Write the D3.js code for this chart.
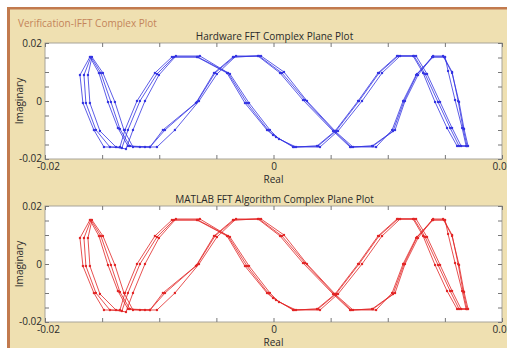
<!DOCTYPE html>
<html>
<head>
<meta charset="utf-8">
<script src="https://cdn.jsdelivr.net/npm/d3@7"></script>
<style>
  body { margin: 0; background: #fff; }
  text { font-family: "Open Sans", sans-serif; fill: #2a2a2a; }
</style>
</head>
<body>
<div id="chart"></div>
<script>
// three overlapping traces of the complex-plane plot (real, imaginary)
var re1 = [-0.01484,-0.01572,-0.01668,-0.01694,-0.01607,-0.01528,-0.01449,-0.01362,-0.01274,-0.01169,-0.01081,-0.0095,-0.00679,-0.00521,-0.00355,-0.00136,0.00057,0.00258,0.00521,0.0067,0.00871,0.01064,0.01151,0.01265,0.01388,0.01502,0.01528,0.01589,0.01651,0.01686,0.01607,0.01519,0.01414,0.01309,0.01222,0.01081,0.00915,0.0074,0.00539,0.00381,0.00171,-0.00004,-0.00057,-0.0025,-0.00407,-0.0067,-0.00889,-0.01038,-0.01195,-0.013,-0.01344];
var im1 = [-0.01586,-0.0100,-0.0007,0.00897,0.01517,0.00966,-0.00034,-0.00931,-0.01552,-0.01586,-0.01586,-0.0100,-0.0007,0.00966,0.01517,0.01552,0.00966,0.00034,-0.01034,-0.01586,-0.01552,-0.0100,0,0.00897,0.01517,0.01517,0.01034,0.00034,-0.00931,-0.01552,-0.01552,-0.00931,-0.00034,0.00966,0.01552,0.01552,0.00966,0,-0.01034,-0.01552,-0.01586,-0.01172,-0.0100,-0.0007,0.00966,0.01517,0.01517,0.00966,0,-0.0100,-0.01586];

var re2 = [-0.01379,-0.01519,-0.01607,-0.01624,-0.01589,-0.01493,-0.01388,-0.01309,-0.0123,-0.01125,-0.0102,-0.00863,-0.00652,-0.00495,-0.00328,-0.00109,0.00092,0.00293,0.00547,0.00696,0.00898,0.01038,0.01134,0.01248,0.01397,0.01484,0.01563,0.01624,0.01668,0.01703,0.01642,0.01563,0.01458,0.01344,0.01248,0.01108,0.0095,0.00775,0.00565,0.00407,0.00197,0.00048,-0.00031,-0.00214,-0.00381,-0.00644,-0.00854,-0.01003,-0.01125,-0.0123,-0.01291];
var im2 = [-0.01586,-0.01034,-0.0007,0.00897,0.01517,0.00966,-0.00034,-0.0100,-0.01586,-0.01586,-0.01586,-0.0100,0,0.00931,0.01552,0.01552,0.0100,0,-0.01069,-0.01586,-0.01586,-0.0100,0,0.00897,0.01552,0.01552,0.00966,-0.00034,-0.00966,-0.01552,-0.01552,-0.00931,-0.00034,0.00931,0.01552,0.01552,0.00966,0,-0.01034,-0.01586,-0.01586,-0.0131,-0.0100,-0.0007,0.00931,0.01552,0.01552,0.00897,0,-0.0100,-0.01655];

var re3 = [-0.01432,-0.01554,-0.01642,-0.01659,-0.01598,-0.01511,-0.01423,-0.01344,-0.01257,-0.01081,-0.00968,-0.0067,-0.00512,-0.00346,-0.00127,0.00074,0.00276,0.0053,0.00679,0.00863,0.01046,0.01143,0.01257,0.01397,0.01493,0.01563,0.01616,0.01659,0.01694,0.01624,0.01546,0.0144,0.01327,0.0123,0.0109,0.00924,0.00749,0.00547,0.0039,0.0018,0.00022,-0.00048,-0.00232,-0.00398,-0.00661,-0.00871,-0.0102,-0.01169,-0.01274,-0.01327];
var im3 = [-0.01586,-0.0100,-0.0007,0.00897,0.01517,0.00966,-0.00034,-0.00966,-0.01552,-0.01586,-0.0100,-0.00034,0.00966,0.01517,0.01552,0.00966,0.00034,-0.01034,-0.01586,-0.01552,-0.01034,0,0.00931,0.01517,0.01517,0.0100,0,-0.00931,-0.01552,-0.01552,-0.00931,-0.00034,0.00931,0.01552,0.01552,0.00966,0,-0.01034,-0.01552,-0.01586,-0.01241,-0.0100,-0.0007,0.00966,0.01517,0.01517,0.00931,0,-0.0100,-0.01621];

var traces = [[re1, im1], [re2, im2], [re3, im3]];

var minorTicks = [-0.02,-0.015,-0.01,-0.005,0,0.005,0.01,0.015,0.02];
var labelTicks = [-0.02, 0, 0.02];
var tickLabels = ["-0.02", "0", "0.02"];

var plots = [
  {title: "Hardware FFT Complex Plane Plot", color: "#3434e2", top: 43},
  {title: "MATLAB FFT Algorithm Complex Plane Plot", color: "#e22626", top: 206}
];

var W = 507, H = 348;
var plotLeft = 45, plotRight = 502, plotH = 116;

var svg = d3.select("#chart").append("svg")
    .attr("width", W)
    .attr("height", H);

// panel frame
svg.append("rect").attr("x", 7).attr("y", 7).attr("width", W - 7).attr("height", H - 7).attr("fill", "#c27a4e");
svg.append("rect").attr("x", 10).attr("y", 9.5).attr("width", W - 10).attr("height", H - 9.5).attr("fill", "#efe0b1");

svg.append("text")
    .attr("x", 18)
    .attr("y", 26.5)
    .style("font-size", "10px")
    .style("fill", "#c4845a")
    .text("Verification-IFFT Complex Plot");

var x = d3.scaleLinear().domain([-0.02, 0.02]).range([plotLeft, plotRight]);

plots.forEach(function(p) {
    var bottom = p.top + plotH;
    var y = d3.scaleLinear().domain([-0.02, 0.02]).range([bottom, p.top]);

    svg.append("rect")
        .attr("x", plotLeft).attr("y", p.top)
        .attr("width", plotRight - plotLeft).attr("height", plotH)
        .attr("fill", "#fff")
        .attr("stroke", "#a8a49a")
        .attr("stroke-width", 1);

    // inward ticks on all four sides
    var tickAxes = [
        [d3.axisTop(x), "translate(0," + bottom + ")"],
        [d3.axisBottom(x), "translate(0," + p.top + ")"],
        [d3.axisRight(y), "translate(" + plotLeft + ",0)"],
        [d3.axisLeft(y), "translate(" + plotRight + ",0)"]
    ];
    tickAxes.forEach(function(a) {
        var g = svg.append("g")
            .attr("transform", a[1])
            .call(a[0].tickValues(minorTicks).tickSize(4).tickFormat(""));
        g.select(".domain").remove();
        g.selectAll("line").attr("stroke", "#777");
    });

    // tick labels
    var xl = svg.append("g")
        .attr("transform", "translate(0," + bottom + ")")
        .call(d3.axisBottom(x).tickValues(labelTicks).tickSize(0).tickPadding(4)
            .tickFormat(function(d, i) { return tickLabels[i]; }));
    xl.select(".domain").remove();
    xl.selectAll("text")
        .attr("dx", function(d, i) { return i === 0 ? 3 : 0; })
        .style("font-size", "10px").style("fill", "#2a2a2a").style("font-family", "Open Sans");

    var yl = svg.append("g")
        .attr("transform", "translate(" + plotLeft + ",0)")
        .call(d3.axisLeft(y).tickValues(labelTicks).tickSize(0).tickPadding(3)
            .tickFormat(function(d, i) { return tickLabels[i]; }));
    yl.select(".domain").remove();
    yl.selectAll("text")
        .attr("dy", function(d, i) { return i === 0 ? "0.2em" : "0.32em"; })
        .style("font-size", "10px").style("fill", "#2a2a2a").style("font-family", "Open Sans");

    svg.append("text")
        .attr("x", (plotLeft + plotRight) / 2 + 1)
        .attr("y", p.top - 3)
        .attr("text-anchor", "middle")
        .style("font-size", "10px")
        .text(p.title);

    svg.append("text")
        .attr("x", (plotLeft + plotRight) / 2)
        .attr("y", bottom + 24)
        .attr("text-anchor", "middle")
        .style("font-size", "10px")
        .text("Real");

    svg.append("text")
        .attr("transform", "rotate(-90)")
        .attr("x", -(p.top + plotH / 2))
        .attr("y", 23)
        .attr("text-anchor", "middle")
        .style("font-size", "10px")
        .text("Imaginary");

    var line = d3.line()
        .x(function(d) { return x(d[0]); })
        .y(function(d) { return y(d[1]); })
        .curve(d3.curveLinearClosed);

    traces.forEach(function(t) {
        var pts = t[0].map(function(v, i) { return [v, t[1][i]]; });
        svg.append("path")
            .datum(pts)
            .attr("d", line)
            .attr("fill", "none")
            .attr("stroke", p.color)
            .attr("stroke-opacity", 0.8)
            .attr("stroke-width", 1);
        svg.append("g").selectAll("circle")
            .data(pts)
            .enter().append("circle")
                .attr("cx", function(d) { return x(d[0]); })
                .attr("cy", function(d) { return y(d[1]); })
                .attr("r", 1.2)
                .attr("fill", p.color);
    });
});
</script>
</body>
</html>
